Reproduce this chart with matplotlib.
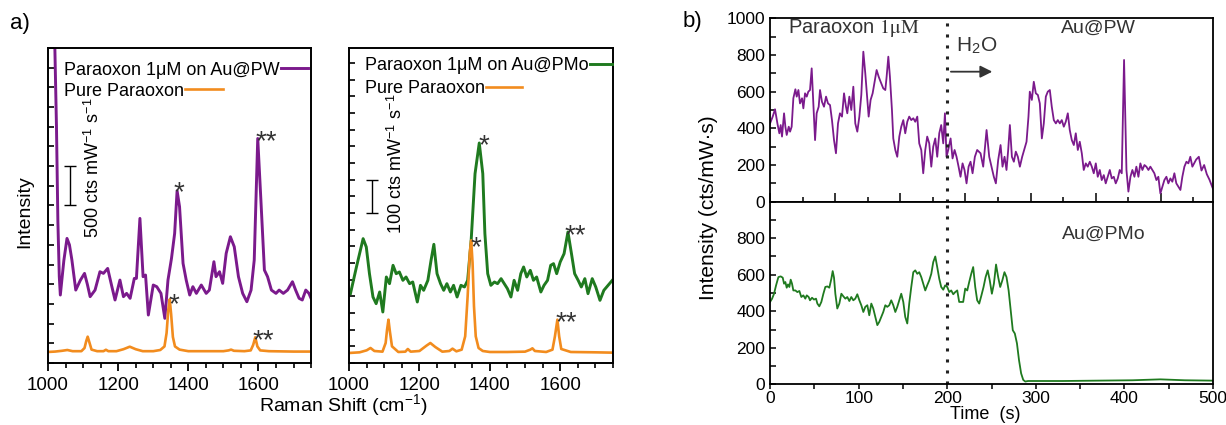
import matplotlib
matplotlib.use("Agg")
import matplotlib.pyplot as plt
from matplotlib.legend import Legend
from matplotlib.ticker import MultipleLocator

plt.rcParams["font.family"] = ["Liberation Sans", "DejaVu Sans"]
plt.rcParams["mathtext.fontset"] = "stix"

PURPLE = "#7b1a8c"
ORANGE = "#f28c1e"
GREEN = "#1f7a1f"
INK = "#333333"

# ---- panel a, left: Au@PW spectrum and pure paraoxon (cts mW-1 s-1)
wn_pw = [1018, 1024, 1028, 1032, 1035, 1045, 1054, 1061, 1068, 1079, 1092, 1104, 1112,
         1120, 1134, 1148, 1158, 1170, 1182, 1191, 1205, 1215, 1224, 1234, 1246, 1252,
         1262, 1271, 1278, 1286, 1300, 1310, 1322, 1333, 1342, 1352, 1361, 1368, 1375,
         1385, 1394, 1404, 1413, 1423, 1437, 1451, 1460, 1473, 1479, 1489, 1498, 1508,
         1520, 1531, 1543, 1555, 1567, 1579, 1588, 1598, 1607, 1617, 1626, 1637, 1650,
         1659, 1671, 1683, 1697, 1706, 1716, 1725, 1735, 1744, 1750]
int_pw = [4300, 3000, 1800, 1100, 863, 1300, 1582, 1500, 1307, 926, 1050, 1138, 1000,
          842, 926, 1159, 1138, 1201, 969, 800, 1053, 842, 884, 821, 1074, 1074,
          1836, 1096, 1117, 609, 990, 969, 884, 567, 1053, 1328, 1645, 2187, 1984,
          1265, 1053, 863, 969, 884, 990, 884, 926, 1286, 1096, 1159, 1011, 1392,
          1603, 1476, 1096, 884, 778, 926, 1307, 2851, 2068, 1180, 1096, 926, 884,
          926, 884, 926, 1032, 926, 821, 800, 926, 884, 821]

wn_pure_l = [1000, 1020, 1040, 1055, 1070, 1095, 1104, 1109, 1113, 1118, 1124, 1140, 1158,
             1165, 1172, 1195, 1215, 1233, 1250, 1270, 1300, 1320, 1332, 1338, 1343, 1347,
             1351, 1356, 1362, 1375, 1400, 1450, 1500, 1515, 1522, 1530, 1560, 1578, 1585,
             1591, 1597, 1605, 1630, 1700, 1750]
int_pure_l = [140, 145, 155, 165, 150, 150, 190, 280, 334, 260, 170, 150, 150,
              168, 150, 150, 175, 207, 175, 150, 150, 165, 210, 380, 680, 808,
              620, 330, 210, 170, 150, 150, 150, 160, 170, 155, 150, 160, 230,
              326, 210, 160, 150, 145, 145]

# ---- panel a, right: Au@PMo spectrum and pure paraoxon
wn_pmo = [1004, 1021, 1040, 1049, 1058, 1068, 1077, 1087, 1096, 1106, 1115, 1125, 1134,
          1143, 1153, 1162, 1172, 1181, 1194, 1203, 1212, 1224, 1233, 1241, 1250, 1260,
          1269, 1278, 1288, 1297, 1307, 1318, 1328, 1337, 1347, 1358, 1370, 1380, 1386,
          1394, 1403, 1413, 1422, 1432, 1441, 1450, 1460, 1469, 1479, 1488, 1496, 1505,
          1515, 1524, 1533, 1545, 1554, 1564, 1573, 1581, 1590, 1600, 1611, 1622, 1632,
          1641, 1651, 1660, 1670, 1679, 1691, 1701, 1713, 1724, 1736, 1748]
int_pmo = [208, 288, 373, 348, 268, 198, 178, 213, 153, 258, 238, 293, 268,
           273, 248, 258, 238, 243, 183, 233, 218, 248, 308, 356, 268, 238,
           218, 238, 213, 233, 198, 233, 228, 248, 368, 568, 660, 568, 388,
           268, 233, 243, 238, 253, 238, 223, 198, 248, 218, 268, 288, 258,
           278, 248, 258, 213, 233, 248, 293, 298, 268, 303, 328, 393, 328,
           268, 248, 228, 253, 208, 253, 228, 188, 218, 233, 248]

wn_pure_r = [1000, 1030, 1050, 1061, 1072, 1095, 1104, 1108, 1112, 1116, 1122, 1140, 1160,
             1167, 1175, 1200, 1220, 1231, 1245, 1265, 1285, 1294, 1305, 1320, 1330, 1337,
             1343, 1347, 1351, 1355, 1360, 1368, 1380, 1400, 1450, 1500, 1515, 1521, 1528,
             1560, 1578, 1585, 1592, 1597, 1603, 1630, 1700, 1750]
int_pure_r = [30, 32, 38, 45, 36, 34, 60, 100, 130, 95, 50, 33, 34,
              42, 34, 36, 52, 60, 48, 34, 36, 43, 35, 40, 80, 200,
              330, 368, 300, 170, 80, 45, 36, 33, 33, 34, 40, 44, 36,
              33, 40, 80, 130, 80, 42, 33, 32, 31]

# ---- panel b: time traces (cts/mW.s)
t_pw = [0, 3, 5.6, 8.3, 10.5, 12, 13.5, 15.8, 17.3, 18.8, 21.1, 22.6, 24.4, 26.3, 28.6,
        30.1, 32, 33.8, 36.1, 37.6, 39.5, 41.4, 43.2, 45.1, 47, 48.9, 50.8, 52.6, 54.9,
        56.4, 58.6, 60.9, 63.2, 65.4, 67.7, 69.9, 72.2, 74.4, 76.7, 78.9, 81.2, 83.5,
        85.7, 87.2, 89.5, 91.7, 94, 96.2, 98.5, 100.8, 103, 105.3, 107.5, 109, 111.3,
        113.5, 115.8, 118, 120.3, 122.6, 124.8, 127.8, 130.1, 131.6, 133.5, 135.3,
        137.6, 139.1, 141.4, 143.6, 145.9, 148.1, 150.4, 152.6, 154.9, 157.1, 159.4,
        161.7, 163.9, 166.2, 168.4, 170.7, 172.9, 175.2, 177.4, 179.7, 182, 184.2,
        186.5, 188.7, 191, 193.2, 195.5, 197.4, 199.2, 201.1, 203.8, 206, 208.3, 210.5,
        212.8, 215, 217.3, 219.5, 221.8, 224.1, 226.3, 228.6, 231.2, 233.8, 237.6,
        240.6, 244.4, 247.4, 250, 252.6, 254.9, 257.5, 260.2, 262.4, 264.7, 266.9,
        268.8, 270.7, 273, 275.2, 277.4, 279.7, 282, 284.6, 286.8, 289.5, 291.7, 293.2,
        295.5, 297.7, 300, 302.3, 304.5, 306.8, 309, 311.3, 313.5, 315.8, 318, 320.3,
        322.6, 324.8, 327.1, 329.3, 331.6, 333.8, 336.1, 338.3, 340.6, 342.9, 345.1,
        347.4, 349.6, 351.9, 354.1, 356.4, 358.6, 360.9, 363.2, 365.4, 367.7, 369.9,
        372.2, 374.4, 376.7, 378.9, 381.2, 383.5, 385.7, 388, 390.2, 392.5, 394.7, 397,
        398.5, 399.6, 400.8, 402.3, 404.5, 406.8, 409, 411.3, 413.5, 415.8, 418, 420.3,
        422.6, 424.8, 427.1, 429.3, 431.6, 433.8, 436.1, 438.3, 440.6, 442.9, 445.1,
        447.4, 449.6, 451.9, 454.1, 456.4, 458.6, 460.9, 463.2, 465.4, 467.7, 470,
        472.2, 474.4, 476.7, 481, 484, 487, 490, 493, 496, 500]
cts_pw = [427, 464, 504, 427, 373, 418, 355, 482, 409, 364, 409, 382, 409, 564, 613,
          573, 609, 536, 564, 509, 591, 573, 600, 609, 727, 536, 336, 482, 518,
          609, 545, 518, 573, 536, 527, 445, 336, 264, 427, 482, 464, 591,
          518, 482, 573, 500, 627, 427, 382, 464, 582, 818, 700, 609, 464,
          555, 591, 654, 718, 682, 654, 618, 609, 682, 791, 682,
          500, 345, 282, 245, 355, 409, 445, 373, 436, 464, 445,
          455, 436, 464, 318, 282, 155, 282, 355, 318, 191, 300,
          345, 245, 373, 418, 318, 482, 245, 282, 345, 236, 282, 245,
          191, 136, 209, 173, 100, 191, 218, 155, 245, 282, 264,
          191, 391, 245, 191, 136, 100, 227, 309, 191, 245, 173,
          282, 418, 245, 218, 273, 245, 191, 245, 282, 327, 464, 600,
          555, 654, 591, 582, 536, 345, 427, 573, 600, 609, 518, 445,
          427, 445, 427, 445, 409, 436, 482, 391, 336, 309, 373,
          282, 327, 264, 173, 209, 191, 218, 191, 155, 209, 136,
          173, 118, 145, 100, 136, 173, 127, 136, 100, 127, 173, 155,
          500, 773, 500, 173, 55, 136, 173, 136, 191, 136, 209, 173,
          200, 191, 173, 191, 173, 155, 118, 136, 45, 82, 118,
          136, 100, 127, 109, 155, 100, 82, 64, 136, 191, 218,
          209, 245, 191, 230, 245, 170, 200, 150, 120, 70]

t_pmo = [0, 2.3, 4.5, 6.8, 9.4, 12, 14.3, 15.8, 17.3, 18.8, 20.3, 21.8, 23.3, 24.8,
         26.3, 28.6, 30.8, 33.1, 35.3, 37.6, 39.8, 41.4, 43.6, 45.1, 47.4, 49.6, 51.9,
         53.4, 55.6, 57.9, 60.2, 62.4, 64.7, 66.9, 69.2, 70.7, 72.2, 73.7, 75.9, 78.2,
         80.5, 82.7, 85, 87.2, 89.5, 91.7, 94, 96.2, 98.5, 100.8, 103, 105.3, 107.5,
         109.8, 112, 114.3, 116.5, 118.8, 121.1, 123.3, 125.6, 127.8, 130.1, 132.3,
         134.6, 136.8, 139.1, 141.4, 143.6, 145.9, 148.1, 150.4, 152.6, 154.9, 157.1,
         159.4, 161.7, 163.9, 166.2, 168.4, 170.7, 172.9, 175.2, 177.4, 179.7, 182,
         184.2, 186.5, 188.7, 191, 193.2, 195.5, 197.7, 200, 202.3, 204.5, 206.8, 209,
         211.3, 213.5, 215.8, 218, 220.3, 222.6, 224.8, 227.1, 229.3, 231.6, 233.8,
         236.1, 238.6, 241, 243.3, 245.7, 248, 250.4, 252.7, 255.1, 257.5, 259.8,
         262.2, 264.6, 266.9, 269.3, 271.6, 274, 276.3, 278.7, 281, 283.4, 285.8,
         288.1, 291.2, 330.5, 369.8, 409.1, 440.5, 468, 500]
cts_pmo = [451, 469, 496, 542, 587, 591, 584, 551, 560, 529, 547, 533, 573, 551,
           514, 514, 505, 511, 478, 487, 469, 487, 478, 460, 474, 464, 469,
           442, 427, 451, 496, 533, 536, 529, 578, 620, 584, 496, 415, 442,
           496, 482, 469, 478, 456, 478, 460, 469, 493, 460, 433, 396, 424,
           433, 378, 442, 415, 369, 324, 342, 369, 396, 433, 424,
           433, 460, 433, 396, 424, 460, 496, 451, 369, 333, 442,
           533, 614, 624, 605, 614, 587, 551, 514, 542, 569, 605,
           669, 700, 642, 578, 533, 518, 542, 533, 505, 514, 493, 505,
           514, 451, 451, 451, 524, 514, 560, 605, 642, 533, 460,
           442, 487, 533, 587, 624, 569, 496, 551, 656, 587, 533,
           569, 614, 587, 514, 405, 296, 278, 224, 133, 60, 24,
           15, 18, 18, 20, 22, 27, 22, 20]

fig = plt.figure(figsize=(12.26, 4.25), dpi=100)
ax_pw = fig.add_axes([0.0392, 0.1459, 0.2145, 0.7412])
ax_pmo = fig.add_axes([0.2847, 0.1459, 0.2153, 0.7412])
ax_top = fig.add_axes([0.6281, 0.5254, 0.3613, 0.4315])
ax_bot = fig.add_axes([0.6281, 0.0958, 0.3613, 0.4296])


def style_spectrum(ax, ystep, ymax):
    ax.set_xlim(1000, 1750)
    ax.set_ylim(0, ymax)
    ax.xaxis.set_major_locator(MultipleLocator(200))
    ax.xaxis.set_minor_locator(MultipleLocator(50))
    ax.yaxis.set_major_locator(MultipleLocator(ystep))
    ax.tick_params(axis="x", which="major", direction="out", length=6, width=1.3,
                   labelsize=13.5, pad=4, top=False)
    ax.tick_params(axis="x", which="minor", direction="out", length=3.5, width=1.2,
                   top=False)
    ax.tick_params(axis="y", direction="in", length=4.5, width=1.2, labelleft=False,
                   right=False)
    for s in ax.spines.values():
        s.set_linewidth(1.4)


def text_then_line(ax, line, x, y, hlen):
    # one legend per entry so each label stays left aligned, line after the text
    leg = Legend(ax, [line], [line.get_label()], loc="center left",
                 bbox_to_anchor=(x, y), markerfirst=False, frameon=False, fontsize=13,
                 handlelength=hlen, handletextpad=0.05, borderpad=0, borderaxespad=0)
    ax.add_artist(leg)


# panel a, left
l_pw, = ax_pw.plot(wn_pw, int_pw, color=PURPLE, lw=2.1, label="Paraoxon 1μM on Au@PW")
l_pl, = ax_pw.plot(wn_pure_l, int_pure_l, color=ORANGE, lw=1.9, label="Pure Paraoxon")
style_spectrum(ax_pw, 250, 4000)
ax_pw.errorbar([1062], [2250], yerr=[250], color="k", lw=1, capsize=4.5, capthick=1)
ax_pw.text(1128, 2481, r"500 cts mW$^{\mathregular{-1}}$ s$^{\mathregular{-1}}$",
           rotation=90, ha="center", va="center", fontsize=13)
for x, y, s in [(1374, 2150, "*"), (1621, 2800, "**"), (1360, 730, "*"), (1613, 280, "**")]:
    ax_pw.text(x, y, s, ha="center", va="center", fontsize=20, color=INK)
text_then_line(ax_pw, l_pw, 0.062, 0.930, 1.5)
text_then_line(ax_pw, l_pl, 0.062, 0.863, 2.1)

# panel a, right
l_pmo, = ax_pmo.plot(wn_pmo, int_pmo, color=GREEN, lw=2.1, label="Paraoxon 1μM on Au@PMo")
l_pr, = ax_pmo.plot(wn_pure_r, int_pure_r, color=ORANGE, lw=1.9, label="Pure Paraoxon")
style_spectrum(ax_pmo, 50, 945)
ax_pmo.errorbar([1066], [500], yerr=[50], color="k", lw=1, capsize=4.5, capthick=1)
ax_pmo.text(1134, 598, r"100 cts mW$^{\mathregular{-1}}$ s$^{\mathregular{-1}}$",
            rotation=90, ha="center", va="center", fontsize=13)
for x, y, s in [(1383, 650, "*"), (1642, 380, "**"), (1361, 345, "*"), (1616, 118, "**")]:
    ax_pmo.text(x, y, s, ha="center", va="center", fontsize=20, color=INK)
text_then_line(ax_pmo, l_pmo, 0.062, 0.943, 1.2)
text_then_line(ax_pmo, l_pr, 0.062, 0.870, 2.0)

fig.text(25 / 1226, 1 - 212 / 425, "Intensity", rotation=90, ha="center", va="center",
         fontsize=14)
fig.text(344 / 1226, 1 - 406 / 425, r"Raman Shift (cm$^{\mathregular{-1}}$)",
         ha="center", va="center", fontsize=14)
fig.text(10 / 1226, 1 - 24 / 425, "a)", ha="left", va="center", fontsize=16)
fig.text(683 / 1226, 1 - 22 / 425, "b)", ha="left", va="center", fontsize=16)

# panel b
ax_top.plot(t_pw, cts_pw, color=PURPLE, lw=1.3)
ax_bot.plot(t_pmo, cts_pmo, color=GREEN, lw=1.3)
for ax in (ax_top, ax_bot):
    ax.set_xlim(0, 500)
    ax.set_ylim(0, 1000)
    ax.axvline(200, color="#222222", lw=2.2, linestyle=(0, (1, 2.6)))
    ax.yaxis.set_minor_locator(MultipleLocator(100))
    ax.tick_params(axis="y", which="both", direction="in", length=4, width=1.1,
                   labelsize=12.5, right=False)
    for s in ax.spines.values():
        s.set_linewidth(1.3)

ax_top.set_yticks([0, 200, 400, 600, 800, 1000])
ax_top.xaxis.set_major_locator(MultipleLocator(500 / 6.8))
ax_top.xaxis.set_minor_locator(MultipleLocator(250 / 6.8))
ax_top.tick_params(axis="x", which="major", direction="in", length=6.5, width=1.1,
                   labelbottom=False, top=False)
ax_top.tick_params(axis="x", which="minor", direction="in", length=3.5, width=1.1,
                   top=False)

ax_bot.set_yticks([0, 200, 400, 600, 800])
ax_bot.xaxis.set_major_locator(MultipleLocator(100))
ax_bot.xaxis.set_minor_locator(MultipleLocator(50))
ax_bot.tick_params(axis="x", which="both", direction="out", length=3.5, width=1.1,
                   labelsize=12.5, pad=1, top=False)

ax_top.text(20, 945, r"Paraoxon $\mathrm{1\mu M}$", ha="left", va="center",
            fontsize=14.5, color=INK)
ax_top.text(371, 945, "Au@PW", ha="center", va="center", fontsize=14, color=INK)
ax_top.text(210, 850, r"H$_{\mathregular{2}}$O", ha="left", va="center", fontsize=15,
            color=INK)
ax_top.annotate("", xy=(254, 709), xytext=(201, 709),
                arrowprops=dict(arrowstyle="-|>", color=INK, lw=1.3, mutation_scale=18))
ax_bot.text(377, 823, "Au@PMo", ha="center", va="center", fontsize=14, color=INK)

fig.text(708 / 1226, 1 - 208 / 425, "Intensity (cts/mW·s)", rotation=90, ha="center",
         va="center", fontsize=15)
fig.text(985 / 1226, 1 - 406 / 425, "Time  (s)", ha="center", va="top", fontsize=13)

fig.savefig("out.png", dpi=100, facecolor="white")
